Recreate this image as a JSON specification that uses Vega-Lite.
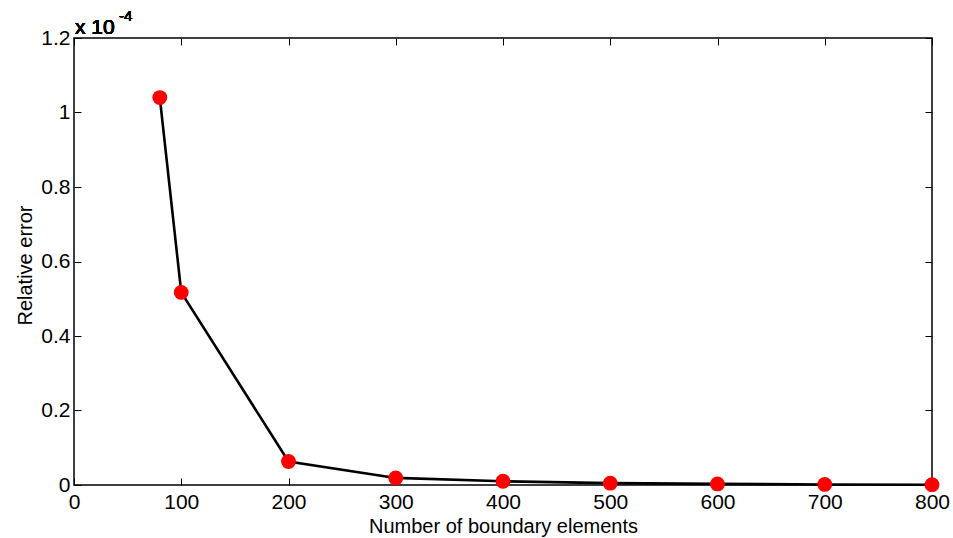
{
  "$schema": "https://vega.github.io/schema/vega-lite/v6.json",
  "width": 858,
  "height": 447,
  "autosize": {"type": "none"},
  "padding": {"left": 74, "top": 38, "right": 21, "bottom": 53},
  "background": "white",
  "config": {
    "font": "Liberation Sans",
    "view": {"stroke": "black", "strokeWidth": 1.5},
    "axis": {
      "grid": false,
      "domain": false,
      "tickColor": "black",
      "tickSize": -7,
      "tickWidth": 1,
      "labelFont": "Liberation Sans",
      "labelFontSize": 21,
      "labelColor": "black",
      "titleFont": "Liberation Sans",
      "titleFontSize": 20,
      "titleFontWeight": "normal",
      "titleColor": "black"
    }
  },
  "data": {
    "values": [
      {"n": 80, "err": 1.04e-4},
      {"n": 100, "err": 0.517e-4},
      {"n": 200, "err": 0.063e-4},
      {"n": 300, "err": 0.019e-4},
      {"n": 400, "err": 0.010e-4},
      {"n": 500, "err": 0.005e-4},
      {"n": 600, "err": 0.003e-4},
      {"n": 700, "err": 0.0015e-4},
      {"n": 800, "err": 0.0008e-4}
    ]
  },
  "layer": [
    {
      "mark": {"type": "line", "color": "black", "strokeWidth": 2.6},
      "encoding": {
        "x": {
          "field": "n", "type": "quantitative",
          "scale": {"domain": [0, 800], "nice": false},
          "axis": {
            "orient": "bottom",
            "values": [0, 100, 200, 300, 400, 500, 600, 700, 800],
            "title": "Number of boundary elements",
            "labelPadding": 13,
            "labelFlush": false,
            "labelOverlap": false,
            "titleY": 47,
            "titleBaseline": "alphabetic"
          }
        },
        "y": {
          "field": "err", "type": "quantitative",
          "scale": {"domain": [0, 0.00012], "nice": false, "zero": true},
          "axis": {
            "orient": "left",
            "values": [0, 0.00002, 0.00004, 0.00006, 0.00008, 0.0001, 0.00012],
            "labelExpr": "datum.value == 0 ? '0' : format(datum.value * 10000, '~g')",
            "title": "Relative error",
            "labelPadding": 11,
            "labelFlush": false,
            "labelOverlap": false,
            "titleX": -43,
            "titleY": 227,
            "titleAngle": -90,
            "titleAlign": "center",
            "titleBaseline": "alphabetic"
          }
        }
      }
    },
    {
      "mark": {"type": "point", "filled": true, "color": "#ff0000", "opacity": 1, "size": 220},
      "encoding": {
        "x": {
          "field": "n", "type": "quantitative",
          "axis": {
            "orient": "top",
            "values": [0, 100, 200, 300, 400, 500, 600, 700, 800],
            "labels": false,
            "title": null
          }
        },
        "y": {
          "field": "err", "type": "quantitative",
          "axis": {
            "orient": "right",
            "values": [0, 0.00002, 0.00004, 0.00006, 0.00008, 0.0001, 0.00012],
            "labels": false,
            "title": null
          }
        }
      }
    },
    {
      "mark": {"type": "text", "text": "x 10", "align": "left", "baseline": "alphabetic", "fontSize": 21, "fontWeight": "normal", "font": "Liberation Sans", "color": "black", "dx": 1, "dy": -4},
      "encoding": {"x": {"datum": 0, "type": "quantitative", "axis": null}, "y": {"datum": 0.00012, "type": "quantitative", "axis": null}}
    },
    {
      "mark": {"type": "text", "text": "-4", "align": "left", "baseline": "alphabetic", "fontSize": 15, "fontWeight": "normal", "font": "Liberation Sans", "color": "black", "dx": 45, "dy": -17},
      "encoding": {"x": {"datum": 0, "type": "quantitative", "axis": null}, "y": {"datum": 0.00012, "type": "quantitative", "axis": null}}
    }
  ],
  "resolve": {"axis": {"x": "independent", "y": "independent"}}
}
